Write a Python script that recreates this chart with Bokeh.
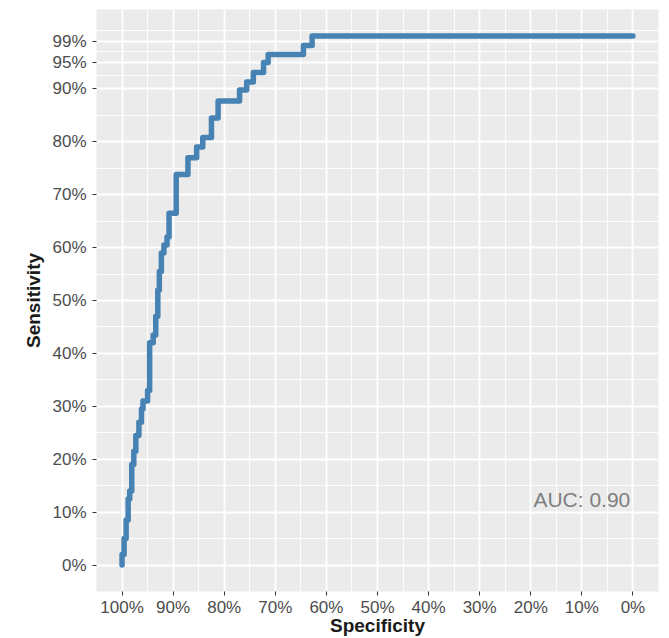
from bokeh.plotting import figure
from bokeh.models import Range1d, FixedTicker, ColumnDataSource
from bokeh.core.properties import value
from bokeh.embed import file_html
from bokeh.resources import INLINE

# ROC path vertices (percent)
specificity = [100.0, 100.0, 99.6, 99.6, 99.2, 99.2, 98.8, 98.8, 98.5, 98.5,
               98.1, 98.1, 97.7, 97.7, 97.3, 97.3, 96.7, 96.7, 96.2, 96.2,
               95.9, 95.9, 95.0, 95.0, 94.6, 94.6, 93.9, 93.9, 93.4, 93.4,
               93.0, 93.0, 92.7, 92.7, 92.3, 92.3, 91.8, 91.8, 91.2, 91.2,
               90.8, 90.8, 89.4, 89.4, 87.1, 87.1, 85.4, 85.4, 84.2, 84.2,
               82.5, 82.5, 81.2, 81.2, 77.0, 77.0, 75.6, 75.6, 74.3, 74.3,
               72.3, 72.3, 71.4, 71.4, 64.5, 64.5, 62.8, 62.8, 0.0]
sensitivity = [0.0, 2.0, 2.0, 5.0, 5.0, 8.5, 8.5, 12.5, 12.5, 14.0,
               14.0, 19.0, 19.0, 21.5, 21.5, 24.5, 24.5, 27.0, 27.0, 29.5,
               29.5, 31.0, 31.0, 33.0, 33.0, 42.0, 42.0, 43.5, 43.5, 47.0,
               47.0, 52.0, 52.0, 55.5, 55.5, 59.0, 59.0, 60.5, 60.5, 62.0,
               62.0, 66.5, 66.5, 73.8, 73.8, 77.0, 77.0, 79.0, 79.0, 80.8,
               80.8, 84.5, 84.5, 87.7, 87.7, 89.8, 89.8, 91.3, 91.3, 93.1,
               93.1, 95.0, 95.0, 96.5, 96.5, 98.2, 98.2, 100.0, 100.0]

x_ticks = [0, 10, 20, 30, 40, 50, 60, 70, 80, 90, 100]
x_minor = [5, 15, 25, 35, 45, 55, 65, 75, 85, 95]
y_ticks = [0, 10, 20, 30, 40, 50, 60, 70, 80, 90, 95, 99]
y_minor = [5, 15, 25, 35, 45, 55, 65, 75, 85, 92.5, 97, 101]

auc_text = ["AUC: 0.90"]
auc_x = [10]
auc_y = [12.4]

FONT = "Liberation Sans"

p = figure(width=669, height=638, output_backend="svg", toolbar_location=None,
           x_range=Range1d(105, -5), y_range=Range1d(-5, 105),
           min_border_left=96, min_border_right=11, min_border_top=9,
           min_border_bottom=47)
p.background_fill_color = "#EBEBEB"
p.border_fill_color = "white"
p.outline_line_color = None

p.xaxis.ticker = FixedTicker(ticks=x_ticks, minor_ticks=x_minor)
p.yaxis.ticker = FixedTicker(ticks=y_ticks, minor_ticks=y_minor)
p.xaxis.major_label_overrides = {t: f"{t}%" for t in x_ticks}
p.yaxis.major_label_overrides = {t: f"{t}%" for t in y_ticks}

for ax in (p.xaxis, p.yaxis):
    ax.axis_line_color = None
    ax.major_tick_line_color = "#333333"
    ax.major_tick_line_width = 1
    ax.major_tick_out = 4
    ax.major_tick_in = 0
    ax.minor_tick_line_color = None
    ax.major_label_text_font = FONT
    ax.major_label_text_font_size = "17px"
    ax.major_label_text_color = "#4D4D4D"
    ax.axis_label_text_font = FONT
    ax.axis_label_text_font_style = "bold"
    ax.axis_label_text_font_size = "19px"
    ax.axis_label_text_color = "#1A1A1A"

p.xaxis.major_label_standoff = 2
p.yaxis.major_label_standoff = 6

p.yaxis.axis_label = "Sensitivity"
p.yaxis.axis_label_standoff = 5
p.xaxis.axis_label = "Specificity"
p.xaxis.axis_label_standoff = -5

for g in (p.xgrid, p.ygrid):
    g.grid_line_color = "white"
    g.grid_line_width = 1.8
    g.minor_grid_line_color = "white"
    g.minor_grid_line_width = 0.9

src = ColumnDataSource(dict(spec=specificity, sens=sensitivity))
p.line("spec", "sens", source=src, line_color="#4682B4", line_width=5.5,
       line_join="round", line_cap="round")

p.text(x=auc_x, y=auc_y, text=auc_text, text_font=value(FONT),
       text_font_size="21px", text_color="#7F7F7F", text_align="center",
       text_baseline="middle")

open("out.html", "w").write(file_html(p, INLINE))
